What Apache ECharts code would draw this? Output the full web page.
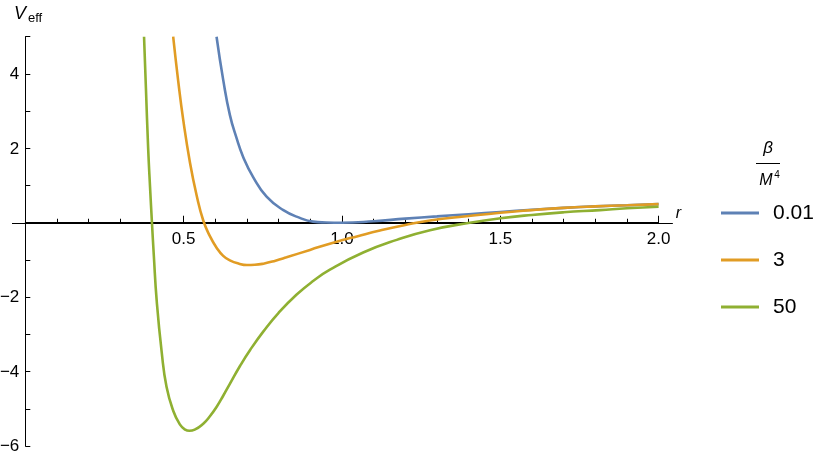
<!DOCTYPE html>
<html><head><meta charset="utf-8">
<script src="https://cdn.jsdelivr.net/npm/echarts@6/dist/echarts.min.js"></script>
<style>html,body{margin:0;padding:0;background:#fff}#c{width:830px;height:460px}</style>
</head><body><div id="c"></div>
<script>
// ---- data ----
const seriesNames = ['0.01', '3', '50'];
const rBlue = [0.604, 0.625, 0.646, 0.667, 0.688, 0.72, 0.762, 0.815, 0.867, 0.909, 0.95, 1.0, 1.1, 1.2, 1.3, 1.4, 1.5, 1.6, 1.7, 1.8, 1.9, 2.0];
const vBlue = [5.0, 3.84, 2.90, 2.28, 1.77, 1.22, 0.70, 0.34, 0.13, 0.03, 0.008, 0.0, 0.04, 0.11, 0.17, 0.23, 0.29, 0.35, 0.40, 0.44, 0.47, 0.50];
const rOrange = [0.467, 0.483, 0.499, 0.52, 0.541, 0.562, 0.583, 0.604, 0.625, 0.646, 0.675, 0.70, 0.725, 0.752, 0.79, 0.825, 0.899, 0.983, 1.05, 1.12, 1.2, 1.278, 1.4, 1.5, 1.6, 1.7, 1.8, 1.9, 2.0];
const vOrange = [5.0, 3.80, 2.75, 1.62, 0.74, 0.06, -0.36, -0.67, -0.89, -1.01, -1.10, -1.135, -1.13, -1.10, -1.02, -0.93, -0.73, -0.51, -0.36, -0.21, -0.06, 0.06, 0.18, 0.27, 0.34, 0.40, 0.44, 0.47, 0.50];
const rGreen = [0.375, 0.381, 0.388, 0.394, 0.40, 0.406, 0.415, 0.431, 0.446, 0.467, 0.488, 0.505, 0.518, 0.535, 0.562, 0.583, 0.604, 0.625, 0.646, 0.678, 0.71, 0.752, 0.80, 0.857, 0.91, 0.962, 1.067, 1.173, 1.278, 1.404, 1.5, 1.6, 1.7, 1.815, 1.9, 2.0];
const vGreen = [5.0, 3.6, 2.0, 0.95, 0.0, -0.9, -2.1, -3.5, -4.41, -5.05, -5.42, -5.56, -5.59, -5.56, -5.40, -5.20, -4.95, -4.65, -4.33, -3.85, -3.42, -2.92, -2.42, -1.93, -1.56, -1.26, -0.80, -0.46, -0.20, 0.0, 0.12, 0.21, 0.28, 0.34, 0.39, 0.43];
const xTickLabels = [0.5, 1.0, 1.5, 2.0];
const yTickLabels = [-6, -4, -2, 2, 4];
const colors = ['#5E81B5', '#E19C24', '#8FB032'];

const zip = (xs, ys) => xs.map((x, i) => [x, ys[i]]);
const FONT = '"Liberation Sans", Arial, Helvetica, sans-serif';

const chart = echarts.init(document.getElementById('c'), null, {renderer: 'canvas'});
const mkSeries = (name, r, v, c) => ({
  name, type: 'line', data: zip(r, v), showSymbol: false, symbol: 'none',
  smooth: 0.5, clip: true,
  lineStyle: {color: c, width: 2.6}, itemStyle: {color: c},
  emphasis: {disabled: true}, animation: false
});

chart.setOption({
  animation: false,
  grid: {left: 25.3, right: 171.4, top: 36.7, bottom: 14, containLabel: false, outerBoundsMode: 'none'},
  xAxis: {
    type: 'value', min: 0, max: 2, interval: 0.5,
    axisLine: {onZero: true, lineStyle: {color: '#000', width: 1}},
    axisTick: {show: true, inside: true, length: 7, lineStyle: {color: '#000'}},
    minorTick: {show: true, splitNumber: 5, length: 4, lineStyle: {color: '#000'}},
    splitLine: {show: false}, minorSplitLine: {show: false},
    axisLabel: {show: false}
  },
  yAxis: {
    type: 'value', min: -6, max: 5, interval: 1,
    axisLine: {show: true, onZero: true, lineStyle: {color: '#000', width: 1}},
    axisTick: {show: true, inside: true, length: 5, lineStyle: {color: '#000'}},
    splitLine: {show: false},
    axisLabel: {show: false}
  },
  legend: {
    orient: 'vertical', left: 716, top: 196, itemGap: 23,
    icon: 'rect', itemWidth: 38, itemHeight: 3,
    data: seriesNames,
    textStyle: {fontSize: 21, color: '#000', fontFamily: FONT, lineHeight: 24, padding: [0, 0, 0, 9]},
    selectedMode: false
  },
  series: [
    mkSeries(seriesNames[0], rBlue, vBlue, colors[0]),
    mkSeries(seriesNames[1], rOrange, vOrange, colors[1]),
    mkSeries(seriesNames[2], rGreen, vGreen, colors[2])
  ]
});

// axis line extension, tick labels and titles placed through the axis scales
const px = (x, y) => chart.convertToPixel({xAxisIndex: 0, yAxisIndex: 0}, [x, y]);
const p0 = px(-0.042, 0), p1 = px(2.045, 0);
const yy = Math.round(p0[1]) + 0.5;
const gfx = [{type: 'line', z: 0, shape: {x1: p0[0], y1: yy, x2: p1[0], y2: yy}, style: {stroke: '#000', lineWidth: 1}}];
xTickLabels.forEach(v => {
  const p = px(v, 0);
  gfx.push({type: 'text', x: p[0], y: p[1] + 17, style: {text: v.toFixed(1), font: '17px ' + FONT, fill: '#000', align: 'center', verticalAlign: 'middle'}});
});
yTickLabels.forEach(v => {
  const p = px(0, v);
  gfx.push({type: 'text', x: p[0] - 6, y: p[1] + 0.5, style: {text: String(v).replace('-', '\u2212'), font: '17px ' + FONT, fill: '#000', align: 'right', verticalAlign: 'middle'}});
});
gfx.push(
  {type: 'text', left: 14, top: 5, style: {text: 'V', font: 'italic 18px ' + FONT, fill: '#000'}},
  {type: 'text', left: 28, top: 12, style: {text: 'eff', font: '13px ' + FONT, fill: '#000'}},
  {type: 'text', x: p1[0] + 3, y: yy - 10, style: {text: 'r', font: 'italic 16px ' + FONT, fill: '#000', align: 'left', verticalAlign: 'middle'}},
  {type: 'text', x: 768, y: 148, style: {text: '\u03B2', font: 'italic 17px ' + FONT, fill: '#000', align: 'center', verticalAlign: 'middle'}},
  {type: 'line', shape: {x1: 756, y1: 163.5, x2: 780, y2: 163.5}, style: {stroke: '#000', lineWidth: 1}},
  {type: 'text', x: 766, y: 181, style: {text: 'M', font: 'italic 16px ' + FONT, fill: '#000', align: 'center', verticalAlign: 'middle'}},
  {type: 'text', x: 777, y: 175, style: {text: '4', font: '10px ' + FONT, fill: '#000', align: 'center', verticalAlign: 'middle'}}
);
chart.setOption({graphic: gfx});
</script>
</body></html>
